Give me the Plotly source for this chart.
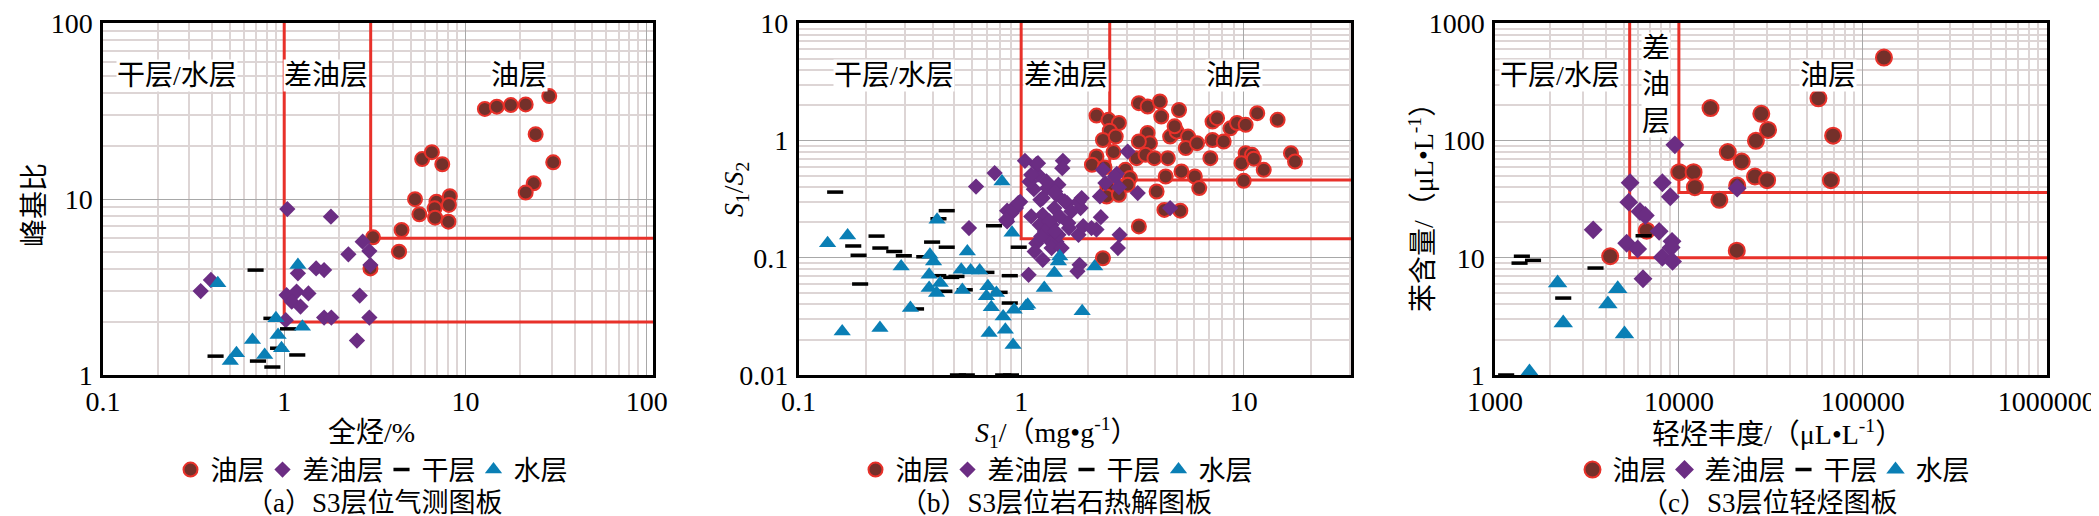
import numpy as np
import plotly.graph_objects as go

W, H = 2099, 516
TOP, BOTTOM = 15, 149

CJK = "Liberation Serif, Noto Sans CJK SC"

# ---- (a) gas logging panel: total hydrocarbon vs peak/base ratio ----
a_oil_x = [12.8, 14.9, 17.8, 21.5, 29.0, 24.4, 30.5, 23.8, 21.5, 5.77, 6.53, 7.45,
           5.27, 6.92, 8.20, 8.11, 6.76, 5.57, 6.80, 8.06, 4.44, 3.09, 4.30, 2.99]
a_oil_y = [32.6, 33.6, 34.3, 34.6, 38.6, 23.4, 16.2, 12.3, 10.9, 16.9, 18.5, 15.8,
           10.0, 9.68, 10.4, 9.27, 8.87, 8.20, 7.85, 7.45, 6.68, 6.07, 5.03, 4.04]
a_poor_x = [1.04, 1.81, 2.71, 2.95, 2.26, 2.99, 1.50, 1.66, 1.19, 0.394, 0.346,
            1.03, 1.17, 1.36, 1.10, 1.23, 2.61, 1.02, 1.66, 1.82, 2.95, 2.52]
a_poor_y = [8.79, 7.95, 5.73, 5.07, 4.86, 4.22, 4.04, 3.95, 3.79, 3.47, 3.00,
            2.85, 2.98, 2.91, 2.61, 2.45, 2.83, 2.05, 2.12, 2.12, 2.12, 1.57]
a_dry_x = [0.695, 0.85, 1.05, 0.418, 0.716, 0.86, 1.18, 0.925]
a_dry_y = [3.95, 2.10, 1.83, 1.28, 1.20, 1.11, 1.30, 1.42]
a_water_x = [0.43, 1.19, 0.90, 1.26, 0.925, 0.668, 0.966, 0.78, 0.545, 0.504]
a_water_y = [3.32, 4.22, 2.10, 1.88, 1.69, 1.58, 1.42, 1.30, 1.33, 1.20]
a_cut_x = [1, 3]
a_cut_y = [2, 6]

# ---- (b) rock pyrolysis panel: S1 vs S1/S2 ----
b_oil_x = [2.18, 2.47, 2.75, 2.50, 2.33, 2.66, 2.60, 2.18, 2.08, 2.37, 2.94, 3.08,
           3.01, 2.44, 2.42, 2.75, 3.38, 3.70, 4.20, 4.26, 5.12, 3.70, 3.79, 3.38,
           3.30, 3.62, 3.97, 4.56, 4.67, 5.00, 4.89, 5.62, 5.49, 6.17, 5.25, 6.03,
           6.31, 4.46, 4.06, 4.40, 5.19, 3.38, 2.33, 7.08, 7.24, 7.24, 7.59, 8.13,
           8.71, 9.33, 10.2, 10.2, 9.77, 10.0, 10.9, 11.1, 11.5, 12.3, 14.2, 16.3, 17.0]
b_oil_y = [1.63, 1.50, 1.41, 1.21, 1.01, 1.08, 0.796, 0.731, 0.621, 0.589, 0.562, 0.478,
           0.419, 0.405, 0.333, 0.344, 2.08, 1.95, 2.15, 1.60, 1.82, 1.16, 0.949, 0.98,
           0.707, 0.755, 0.707, 0.707, 1.08, 1.19, 1.32, 1.08, 0.861, 0.949, 0.545, 0.493,
           0.393, 0.493, 0.367, 0.256, 0.252, 0.185, 0.099, 0.707, 1.01, 1.45, 1.55, 0.98,
           1.27, 1.41, 1.36, 0.780, 0.641, 0.453, 0.755, 0.70, 1.71, 0.562, 1.50, 0.78, 0.662]
b_poor_x = [0.627, 0.583, 0.760, 0.865, 0.865, 1.04, 1.17, 1.54, 1.53, 1.08, 1.25, 1.17,
            1.31, 1.44, 1.47, 1.37, 1.25, 1.41, 1.44, 1.31, 1.47, 1.22, 1.14, 1.09,
            0.99, 0.948, 1.19, 1.61, 1.81, 1.85, 1.64, 1.81, 1.90, 2.18, 2.28, 2.26,
            2.39, 2.33, 2.69, 2.75, 3.01, 3.34, 4.67, 2.77, 2.72, 1.79, 1.83, 1.37,
            1.19, 1.11, 2.64, 0.904, 0.857, 1.30, 1.25, 1.42, 0.92, 0.97, 1.11, 1.21,
            1.34, 1.28, 1.42, 1.49, 1.52, 1.15, 1.23, 1.68, 1.63, 1.57, 1.87, 2.07]
b_poor_y = [0.405, 0.179, 0.527, 0.252, 0.204, 0.671, 0.628, 0.671, 0.581, 0.0716, 0.096, 0.133,
            0.147, 0.137, 0.157, 0.191, 0.232, 0.265, 0.344, 0.393, 0.42, 0.312, 0.384, 0.445,
            0.30, 0.265, 0.512, 0.292, 0.30, 0.265, 0.179, 0.157, 0.186, 0.174, 0.222, 0.333,
            0.433, 0.562, 0.52, 0.40, 0.805, 0.356, 0.265, 0.157, 0.121, 0.0766, 0.087, 0.121,
            0.641, 0.51, 0.494, 0.24, 0.211, 0.448, 0.323, 0.368, 0.265, 0.292, 0.225, 0.191,
            0.204, 0.168, 0.168, 0.225, 0.121, 0.113, 0.152, 0.248, 0.198, 0.302, 0.323, 0.179]
b_dry_x = [0.146, 0.176, 0.186, 0.189, 0.224, 0.233, 0.269, 0.297, 0.367, 0.337, 0.398,
           0.425, 0.463, 0.463, 0.485, 0.452, 0.755, 0.975, 0.512, 0.889, 0.698, 0.558,
           0.80, 0.889, 0.424, 0.52, 0.57, 0.83, 0.90]
b_dry_y = [0.363, 0.126, 0.105, 0.0597, 0.153, 0.121, 0.113, 0.104, 0.102, 0.0366, 0.136,
           0.215, 0.252, 0.123, 0.068, 0.0518, 0.1875, 0.123, 0.0693, 0.0703, 0.075, 0.0533,
           0.0507, 0.0411, 0.0703, 0.01, 0.01, 0.01, 0.01]
b_water_x = [0.135, 0.166, 0.157, 0.232, 0.289, 0.318, 0.419, 0.389, 0.404, 0.386, 0.433,
             0.386, 0.417, 0.82, 0.91, 0.573, 0.538, 0.593, 0.651, 0.544, 0.709, 0.774,
             0.698, 0.734, 0.83, 0.93, 1.07, 0.718, 0.849, 0.92, 1.27, 1.41, 1.47, 2.14,
             1.88, 1.49, 1.05]
b_water_y = [0.133, 0.155, 0.0235, 0.0252, 0.0843, 0.0372, 0.211, 0.106, 0.093, 0.0716, 0.0608,
             0.0551, 0.050, 0.448, 0.163, 0.113, 0.079, 0.078, 0.078, 0.053, 0.057, 0.050,
             0.047, 0.0378, 0.0316, 0.036, 0.0398, 0.0228, 0.0243, 0.018, 0.0552, 0.074, 0.093,
             0.0843, 0.0349, 0.1026, 0.0385]
b_cut_x = [1, 2.5]
b_cut_y = [0.145, 0.46]

# ---- (c) light hydrocarbon panel: abundance vs benzene ----
c_oil_x = [130400, 57400, 14860, 28070, 30550, 26240, 69000, 18450, 21960, 10050,
           12020, 12220, 20750, 25930, 30190, 67100, 16600, 6680, 4230, 20650]
c_oil_y = [510, 229, 189, 169, 123, 99.3, 110, 79.6, 66.2, 53.7,
           53.7, 40.0, 41.3, 49.3, 45.9, 45.9, 31.2, 17.0, 10.3, 11.5]
c_poor_x = [9510, 5430, 8130, 8980, 5340, 6140, 6570, 3420, 7810, 5200, 5970, 9180,
            9080, 8130, 9240, 6380, 20750]
c_poor_y = [91.8, 43.6, 43.6, 33.1, 29.8, 24.8, 22.9, 17.3, 16.8, 13.3, 11.9, 13.8,
            12.2, 10.1, 9.3, 6.62, 39.2]
c_dry_x = [1400, 1360, 1610, 3520, 2350, 6430, 1150]
c_dry_y = [10.3, 9.0, 9.5, 8.17, 4.53, 15.4, 1.0]
c_water_x = [2190, 4650, 4110, 2350, 5060, 1540]
c_water_y = [6.08, 5.44, 4.03, 2.77, 2.24, 1.06]
c_cut_x = [5400, 10000]
c_cut_y = [10, 36]

# axis ticks
a_xticks = [0.1, 1, 10, 100]
a_xlabels = ["0.1", "1", "10", "100"]
a_yticks = [1, 10, 100]
a_ylabels = ["1", "10", "100"]
b_xticks = [0.1, 1, 10]
b_xlabels = ["0.1", "1", "10"]
b_yticks = [0.01, 0.1, 1, 10]
b_ylabels = ["0.01", "0.1", "1", "10"]
c_xticks = [1000, 10000, 100000, 1000000]
c_xlabels = ["1000", "10000", "100000", "1000000"]
c_yticks = [1, 10, 100, 1000]
c_ylabels = ["1", "10", "100", "1000"]

classes = ["油层", "差油层", "干层", "水层"]
zones = ["干层/水层", "差油层", "油层"]

OIL_FILL, OIL_EDGE = "#74302A", "#E8312A"
POOR = "#6B2D83"
WATER = "#0A7FB5"
CUT = "#E8312A"


def minor_vals(lo, hi):
    return [m * 10.0 ** k for k in range(lo, hi) for m in range(2, 10)]


panels = [
    dict(px=(95, 645), xr=[-1, 2.035], yr=[0, 2.002],
         oil=(a_oil_x, a_oil_y), poor=(a_poor_x, a_poor_y), dry=(a_dry_x, a_dry_y),
         water=(a_water_x, a_water_y), cut=(a_cut_x, a_cut_y),
         xt=(a_xticks, a_xlabels), yt=(a_yticks, a_ylabels), size=14,
         xtitle="全烃/%", ytitle="峰基比", ytx=26, yty=197, xtx=363, legx=367,
         cap="（a）S3层位气测图板", capx=366,
         zone_pos=[(0.255, 50.7), (1.70, 50.7), (19.8, 50.7)]),
    dict(px=(790.6, 1343), xr=[-1, 1.482], yr=[-2, 1.002],
         oil=(b_oil_x, b_oil_y), poor=(b_poor_x, b_poor_y), dry=(b_dry_x, b_dry_y),
         water=(b_water_x, b_water_y), cut=(b_cut_x, b_cut_y),
         xt=(b_xticks, b_xlabels), yt=(b_yticks, b_ylabels), size=14,
         xtitle="<i>S</i><sub>1</sub>/（mg•g<sup>-1</sup>）",
         ytitle="<i>S</i><sub>1</sub>/<i>S</i><sub>2</sub>", ytx=727, yty=182, xtx=1049,
         legx=1052, cap="（b）S3层位岩石热解图板", capx=1048,
         zone_pos=[(0.269, 3.6), (1.59, 3.6), (9.06, 3.6)]),
    dict(px=(1487, 2039), xr=[3, 6.002], yr=[0, 3.002],
         oil=(c_oil_x, c_oil_y), poor=(c_poor_x, c_poor_y), dry=(c_dry_x, c_dry_y),
         water=(c_water_x, c_water_y), cut=(c_cut_x, c_cut_y),
         xt=(c_xticks, c_xlabels), yt=(c_yticks, c_ylabels), size=16,
         xtitle="轻烃丰度/（μL•L<sup>-1</sup>）", ytitle="苯含量/（μL•L<sup>-1</sup>）",
         ytx=1414, yty=193, xtx=1769, legx=1769,
         cap="（c）S3层位轻烃图板", capx=1761,
         zone_pos=[(2256, 361), (7500, 297), (64500, 361)]),
]

fig = go.Figure()
layout = dict(template="none", width=W, height=H, margin=dict(l=0, r=0, t=TOP, b=BOTTOM),
              paper_bgcolor="white", plot_bgcolor="white", showlegend=True,
              annotations=[])


def py(real_y):
    return (H - BOTTOM - real_y) / (H - TOP - BOTTOM)


for i, p in enumerate(panels):
    n = "" if i == 0 else str(i + 1)
    xa, ya = "x" + n, "y" + n
    leg = "legend" + n
    xmax, ymax = 10 ** p["xr"][1], 10 ** p["yr"][1]

    # threshold lines (L shapes)
    for cx, cy in zip(*p["cut"]):
        fig.add_trace(go.Scatter(x=[cx, cx, xmax], y=[ymax, cy, cy], mode="lines",
                                 line=dict(color=CUT, width=3), xaxis=xa, yaxis=ya,
                                 showlegend=False, hoverinfo="skip"))

    s = p["size"]
    styles = [
        dict(symbol="circle", size=s, color=OIL_FILL, line=dict(color=OIL_EDGE, width=2)),
        dict(symbol="diamond", size=s - 1.5, color=POOR, line=dict(width=0)),
        dict(symbol="line-ew", size=11.5, line=dict(color="black", width=3.5)),
        dict(symbol="triangle-up", size=s + 1, color=WATER, line=dict(width=0)),
    ]
    for name, (xs, ys), st in zip(classes, [p["oil"], p["poor"], p["dry"], p["water"]], styles):
        fig.add_trace(go.Scatter(x=xs, y=ys, mode="markers", name=name, marker=st,
                                 xaxis=xa, yaxis=ya, legend=leg, cliponaxis=False))

    d0, d1 = p["px"][0] / W, p["px"][1] / W
    common = dict(type="log", showline=True, linecolor="black", linewidth=2.5, mirror=True,
                  ticks="", showgrid=True, gridcolor="#A8A8A8", gridwidth=1.2,
                  tickfont=dict(family="Liberation Serif", size=28, color="black"),
                  zeroline=False, tickmode="array", automargin=False,
                  ticklabeloverflow="allow")
    layout["xaxis" + n] = dict(common, domain=[d0, d1], range=p["xr"], anchor=ya,
                               tickvals=p["xt"][0], ticktext=p["xt"][1],
                               minor=dict(tickmode="array", showgrid=True,
                                          tickvals=minor_vals(int(np.floor(p["xr"][0])), int(np.ceil(p["xr"][1]))),
                                          gridcolor="#DDD5D5", gridwidth=1.5))
    layout["yaxis" + n] = dict(common, domain=[0, 1], range=p["yr"], anchor=xa,
                               tickvals=p["yt"][0], ticktext=p["yt"][1], ticklabelstandoff=2,
                               minor=dict(tickmode="array", showgrid=True,
                                          tickvals=minor_vals(int(p["yr"][0]), int(np.ceil(p["yr"][1]))),
                                          gridcolor="#DDD5D5", gridwidth=1.5))

    layout[leg] = dict(orientation="h", x=p["legx"] / W, y=py(462), xanchor="center",
                       yanchor="middle", font=dict(family=CJK, size=27, color="black"),
                       itemwidth=30, indentation=-7, tracegroupgap=0,
                       bgcolor="rgba(0,0,0,0)")

    ann = layout["annotations"]
    # zone labels
    for k, (label, (zx, zy)) in enumerate(zip(zones, p["zone_pos"])):
        txt = label
        if i == 2 and k == 1:
            txt = "<br>".join(list(label))
        ann.append(dict(x=np.log10(zx), y=np.log10(zy), xref=xa, yref=ya, text=txt,
                        xanchor="center", yanchor="middle",
                        showarrow=False, font=dict(family=CJK, size=28, color="black"),
                        bgcolor="white", borderpad=0))
    centred = dict(xref="paper", yref="paper", xanchor="center", yanchor="middle",
                   showarrow=False)
    ann.append(dict(centred, x=p["xtx"] / W, y=py(424), text=p["xtitle"],
                    font=dict(family=CJK, size=28, color="black")))
    ann.append(dict(centred, x=p["ytx"] / W, y=py(p["yty"]), text=p["ytitle"], textangle=-90,
                    font=dict(family=CJK, size=28, color="black")))
    ann.append(dict(centred, x=p["capx"] / W, y=py(495), text=p["cap"],
                    font=dict(family=CJK, size=27, color="black")))

fig.update_layout(**layout)
fig.write_html("out.html")
